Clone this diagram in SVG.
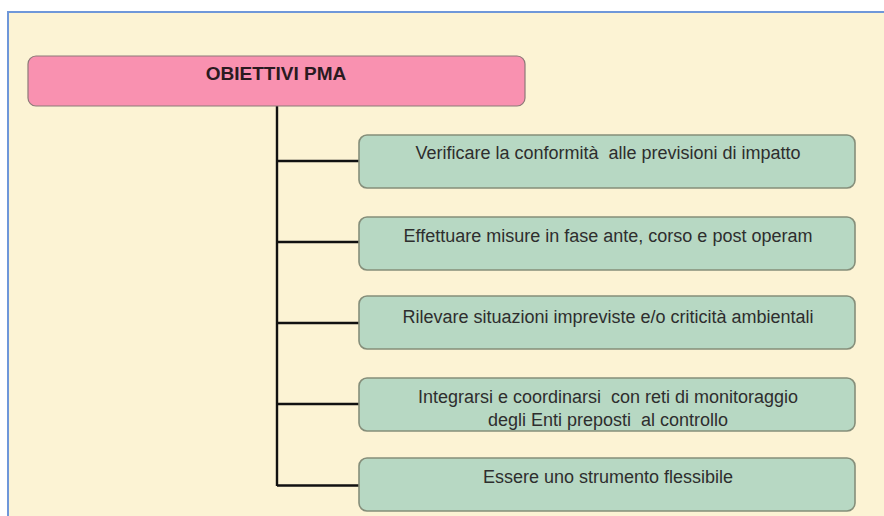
<svg xmlns="http://www.w3.org/2000/svg" width="884" height="516" viewBox="0 0 884 516" xml:space="preserve">
<style>
.bg{fill:#fcf3d4;stroke:#6f97d9;stroke-width:2}
.root{fill:#f991b0;stroke:#8c7a78;stroke-width:1.2}
.item{fill:#b7d8c3;stroke:#858e7a;stroke-width:1.6}
.conn{stroke:#111;stroke-width:2.4;fill:none}
text{font-family:"Liberation Sans",Arial,sans-serif;fill:#2e2e2e;text-anchor:middle;white-space:pre}
.t{font-size:18px}
.h{font-size:19px;font-weight:bold;fill:#2a1a20}
</style>
<rect x="0" y="0" width="884" height="516" fill="#ffffff"/>
<rect class="bg" x="8" y="12" width="890" height="520"/>
<g id="conn">
<path class="conn" d="M277 106 V486"/>
<path class="conn" d="M277 161 H359 M277 242 H359 M277 323 H359 M277 404 H359 M277 485.5 H359"/>
</g>
<g id="root">
<rect class="root" x="28" y="56" width="497" height="50" rx="8"/>
<text class="h" x="276" y="80">OBIETTIVI PMA</text>
</g>
<g id="n1">
<rect class="item" x="359" y="135" width="496" height="53" rx="8"/>
<text class="t" x="608" y="159">Verificare la conformità  alle previsioni di impatto</text>
</g>
<g id="n2">
<rect class="item" x="359" y="217" width="496" height="53" rx="8"/>
<text class="t" x="608" y="242">Effettuare misure in fase ante, corso e post operam</text>
</g>
<g id="n3">
<rect class="item" x="359" y="296" width="496" height="53" rx="8"/>
<text class="t" x="608" y="323">Rilevare situazioni impreviste e/o criticità ambientali</text>
</g>
<g id="n4">
<rect class="item" x="359" y="378" width="496" height="53" rx="8"/>
<text class="t" x="608" y="403">Integrarsi e coordinarsi  con reti di monitoraggio</text>
<text class="t" x="608" y="426">degli Enti preposti  al controllo</text>
</g>
<g id="n5">
<rect class="item" x="359" y="458" width="496" height="53" rx="8"/>
<text class="t" x="608" y="483">Essere uno strumento flessibile</text>
</g>
</svg>
